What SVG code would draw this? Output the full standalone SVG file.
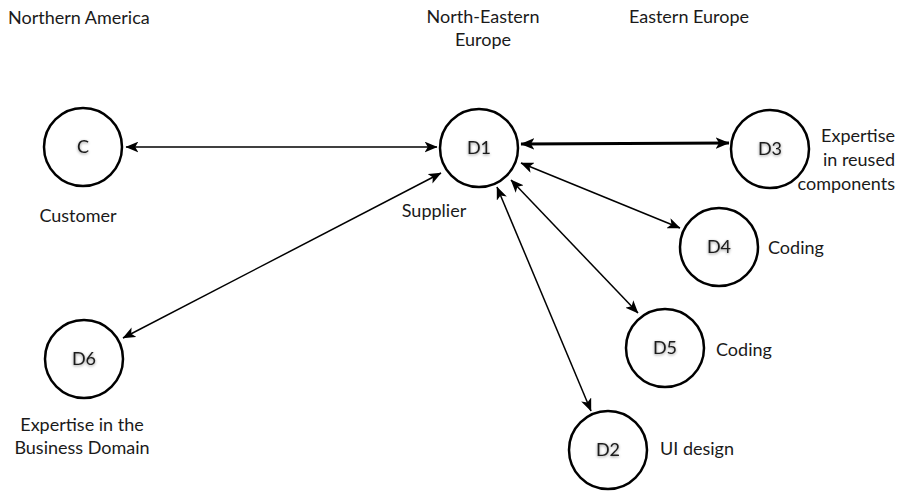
<svg xmlns="http://www.w3.org/2000/svg" width="904" height="491" viewBox="0 0 904 491">
  <style>
    .lbl { font-family: Lato, "Open Sans", "Liberation Sans", sans-serif; font-size: 18px; fill: #1a1a1a; }
    .nodetxt { font-family: Lato, "Open Sans", "Liberation Sans", sans-serif; font-size: 18px; fill: #1a1a1a; text-anchor: middle; }
    .node circle { fill: #ffffff; stroke: #000000; stroke-width: 2.5; }
    .edge { stroke: #000000; stroke-width: 1.5; fill: none; }
    .edge.thick { stroke-width: 2.8; }
  </style>
  <defs>
    <marker id="arrow" viewBox="0 0 12 10" refX="11.5" refY="5" markerWidth="13" markerHeight="11" markerUnits="userSpaceOnUse" orient="auto-start-reverse">
      <path d="M0,0 L12,5 L0,10 L3,5 Z" fill="#000000"/>
    </marker>
    <marker id="arrowThick" viewBox="0 0 12 10" refX="11.5" refY="5" markerWidth="14" markerHeight="12" markerUnits="userSpaceOnUse" orient="auto-start-reverse">
      <path d="M0,0 L12,5 L0,10 L3,5 Z" fill="#000000"/>
    </marker>
    <filter id="glow" x="-50%" y="-50%" width="200%" height="200%">
      <feGaussianBlur in="SourceAlpha" stdDeviation="1.6" result="b"/>
      <feOffset in="b" dx="0" dy="1" result="o"/>
      <feComponentTransfer in="o" result="s">
        <feFuncA type="linear" slope="0.45"/>
      </feComponentTransfer>
      <feMerge>
        <feMergeNode in="s"/>
        <feMergeNode in="SourceGraphic"/>
      </feMerge>
    </filter>
  </defs>

  <rect width="904" height="491" fill="#ffffff"/>

  <!-- region headings -->
  <g id="regions">
    <text class="lbl" x="8" y="24">Northern America</text>
    <text class="lbl" x="483" y="23" text-anchor="middle">North-Eastern</text>
    <text class="lbl" x="483" y="46" text-anchor="middle">Europe</text>
    <text class="lbl" x="689" y="23" text-anchor="middle">Eastern Europe</text>
  </g>

  <!-- connectors -->
  <g id="connectors">
    <line class="edge" x1="126" y1="147" x2="437" y2="147" marker-start="url(#arrow)" marker-end="url(#arrow)"/>
    <line class="edge thick" x1="521" y1="144" x2="729" y2="143" marker-start="url(#arrowThick)" marker-end="url(#arrowThick)"/>
    <line class="edge" x1="521" y1="163" x2="680" y2="228" marker-start="url(#arrow)" marker-end="url(#arrow)"/>
    <line class="edge" x1="511" y1="180" x2="638" y2="313" marker-start="url(#arrow)" marker-end="url(#arrow)"/>
    <line class="edge" x1="497" y1="187" x2="591" y2="411" marker-start="url(#arrow)" marker-end="url(#arrow)"/>
    <line class="edge" x1="441" y1="173" x2="123" y2="338" marker-start="url(#arrow)" marker-end="url(#arrow)"/>
  </g>

  <!-- nodes -->
  <g id="node-C" class="node">
    <circle cx="83" cy="147" r="39"/>
    <text class="nodetxt" x="83" y="153" filter="url(#glow)">C</text>
    <text class="lbl" x="78" y="222" text-anchor="middle">Customer</text>
  </g>

  <g id="node-D1" class="node">
    <circle cx="479" cy="148" r="39"/>
    <text class="nodetxt" x="479" y="154" filter="url(#glow)">D1</text>
    <text class="lbl" x="434" y="217" text-anchor="middle">Supplier</text>
  </g>

  <g id="node-D3" class="node">
    <circle cx="770" cy="149" r="39"/>
    <text class="nodetxt" x="770" y="155" filter="url(#glow)">D3</text>
    <text class="lbl" x="895" y="142" text-anchor="end">Expertise</text>
    <text class="lbl" x="895" y="166" text-anchor="end">in reused</text>
    <text class="lbl" x="895" y="190" text-anchor="end">components</text>
  </g>

  <g id="node-D4" class="node">
    <circle cx="719" cy="247" r="39"/>
    <text class="nodetxt" x="719" y="253" filter="url(#glow)">D4</text>
    <text class="lbl" x="768" y="254">Coding</text>
  </g>

  <g id="node-D5" class="node">
    <circle cx="665" cy="348" r="39"/>
    <text class="nodetxt" x="665" y="354" filter="url(#glow)">D5</text>
    <text class="lbl" x="716" y="356">Coding</text>
  </g>

  <g id="node-D2" class="node">
    <circle cx="608" cy="450" r="39"/>
    <text class="nodetxt" x="608" y="456" filter="url(#glow)">D2</text>
    <text class="lbl" x="660" y="455">UI design</text>
  </g>

  <g id="node-D6" class="node">
    <circle cx="84" cy="359" r="39"/>
    <text class="nodetxt" x="84" y="365" filter="url(#glow)">D6</text>
    <text class="lbl" x="82" y="431" text-anchor="middle">Expertise in the</text>
    <text class="lbl" x="82" y="454" text-anchor="middle">Business Domain</text>
  </g>
</svg>
